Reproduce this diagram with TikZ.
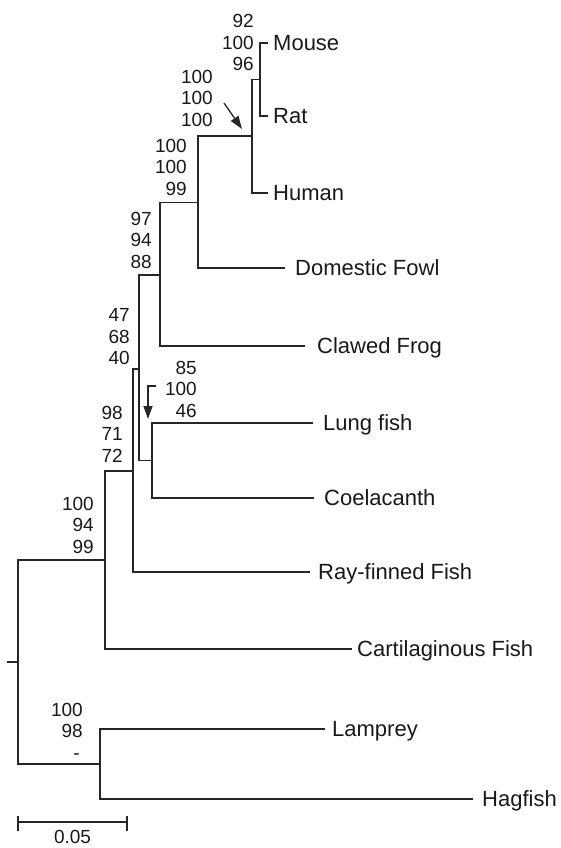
\documentclass[tikz,border=0pt]{standalone}
\usepackage{fontspec}
\setmainfont{Liberation Sans}
\usetikzlibrary{arrows.meta}
\begin{document}
\begin{tikzpicture}[x=1pt,y=-1pt,
  branch/.style={line width=1.3pt, draw=black!85},
  taxon/.style={anchor=base west, inner sep=0pt, text=black!90, font=\fontsize{22}{26}\selectfont},
  support/.style={anchor=east, inner sep=0pt, align=right, text=black!90, font=\fontsize{19}{21.5}\selectfont},
  pointer/.style={line width=1.3pt, draw=black!85, -{Triangle[length=13pt,width=9pt]}}]
\useasboundingbox (0,0) rectangle (561,848);
% internal nodes
\coordinate (nMR) at (260,79.5);
\coordinate (nMRH) at (252,136);
\coordinate (nE) at (198,202.5);
\coordinate (nF) at (160,275);
\coordinate (nG) at (152,460.5);
\coordinate (nA) at (139,369);
\coordinate (nB) at (133,471);
\coordinate (nC) at (105,560);
\coordinate (nD) at (100,764);
\coordinate (root) at (18,662);
\coordinate (stub) at (7,662);
% tips
\coordinate (tMouse) at (268,43);
\coordinate (tRat) at (268,116);
\coordinate (tHuman) at (268,193);
\coordinate (tFowl) at (285,268);
\coordinate (tFrog) at (305,346);
\coordinate (tLung) at (313,423);
\coordinate (tCoel) at (314,498);
\coordinate (tRay) at (310,572);
\coordinate (tCart) at (352,649);
\coordinate (tLamp) at (325,729);
\coordinate (tHag) at (473,799);
% branches
\draw[branch] (nMR) |- (tMouse);
\draw[branch] (nMR) |- (tRat);
\draw[branch] (nMRH) |- (nMR);
\draw[branch] (nMRH) |- (tHuman);
\draw[branch] (nE) |- (nMRH);
\draw[branch] (nE) |- (tFowl);
\draw[branch] (nF) |- (nE);
\draw[branch] (nF) |- (tFrog);
\draw[branch] (nG) |- (tLung);
\draw[branch] (nG) |- (tCoel);
\draw[branch] (nA) |- (nF);
\draw[branch] (nA) |- (nG);
\draw[branch] (nB) |- (nA);
\draw[branch] (nB) |- (tRay);
\draw[branch] (nC) |- (nB);
\draw[branch] (nC) |- (tCart);
\draw[branch] (nD) |- (tLamp);
\draw[branch] (nD) |- (tHag);
\draw[branch] (root) |- (nC);
\draw[branch] (root) |- (nD);
\draw[branch] (stub) -- (root);
% taxon labels
\node[taxon] (lMouse) at (273,50.9) {Mouse};
\node[taxon] (lRat) at (273,123.9) {Rat};
\node[taxon] (lHuman) at (273,200.9) {Human};
\node[taxon] (lFowl) at (295,275.9) {Domestic Fowl};
\node[taxon] (lFrog) at (317,353.9) {Clawed Frog};
\node[taxon] (lLung) at (323,430.9) {Lung fish};
\node[taxon] (lCoel) at (324,505.9) {Coelacanth};
\node[taxon] (lRay) at (318,579.9) {Ray-finned Fish};
\node[taxon] (lCart) at (357,656.9) {Cartilaginous Fish};
\node[taxon] (lLamp) at (332,736.9) {Lamprey};
\node[taxon] (lHag) at (482,806.9) {Hagfish};
% support values
\node[support] (sMR) at (254,42.5) {92\\100\\96};
\node[support] (sMRH) at (213,98) {100\\100\\100};
\node[support] (sE) at (187,167) {100\\100\\99};
\node[support] (sF) at (152,240) {97\\94\\88};
\node[support] (sA) at (130,337) {47\\68\\40};
\node[support] (sG) at (197,389) {85\\100\\46};
\node[support] (sB) at (123,434) {98\\71\\72};
\node[support] (sC) at (94,525) {100\\94\\99};
\node[support] (sD) at (83,731) {100\\98\\-\kern3pt};
% pointers
\coordinate (a1s) at (224,103);
\coordinate (a1e) at (242,129);
\draw[pointer] (a1s) -- (a1e);
\coordinate (a2s) at (156,386);
\coordinate (a2e) at (148,419);
\draw[pointer] (a2s) -| (a2e);
% scale bar
\coordinate (sb1) at (18,822);
\coordinate (sb2) at (127,822);
\coordinate (sb1t) at (18,815.5);
\coordinate (sb1b) at (18,831);
\coordinate (sb2t) at (127,815.5);
\coordinate (sb2b) at (127,831);
\draw[branch] (sb1) -- (sb2);
\draw[branch] (sb1t) -- (sb1b);
\draw[branch] (sb2t) -- (sb2b);
\node[inner sep=0pt, text=black!90, font=\fontsize{19}{21.5}\selectfont] (scale) at (72.5,837) {0.05};
\end{tikzpicture}
\end{document}
